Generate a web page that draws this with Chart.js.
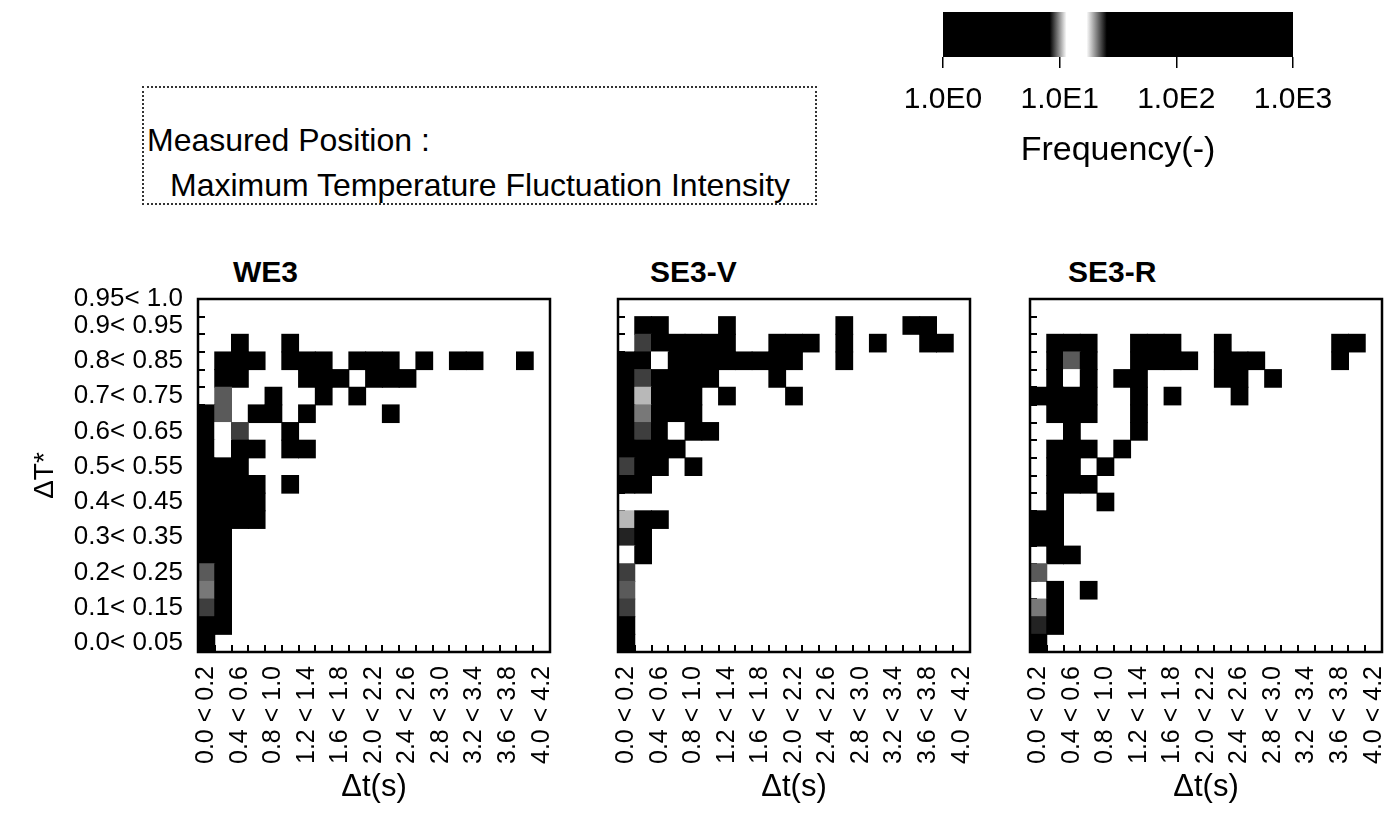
<!DOCTYPE html>
<html><head><meta charset="utf-8">
<script src="https://cdn.jsdelivr.net/npm/chart.js@4.4.0/dist/chart.umd.min.js"></script>
<style>
html,body{margin:0;padding:0;background:#fff;}
body{width:1396px;height:815px;position:relative;overflow:hidden;font-family:'Liberation Sans',Arial,sans-serif;color:#000;}
.abs{position:absolute;}
canvas{display:block;}
#box{left:142px;top:86px;width:671px;height:115px;border:2px dotted #333;}
.boxline{position:absolute;font-size:32px;line-height:32px;white-space:nowrap;}
.ptitle{position:absolute;font-weight:bold;font-size:30px;line-height:30px;white-space:nowrap;}
</style></head><body>
<div id="box" class="abs">
  <div class="boxline" style="left:3px;top:36px">Measured Position :</div>
  <div class="boxline" style="left:26px;top:81px">Maximum Temperature Fluctuation Intensity</div>
</div>
<div class="ptitle" style="left:233px;top:257px">WE3</div>
<div class="ptitle" style="left:650px;top:257px">SE3-V</div>
<div class="ptitle" style="left:1068px;top:257px">SE3-R</div>
<canvas id="cbar" class="abs" style="left:880px;top:0px" width="516" height="185"></canvas>
<canvas id="c1" class="abs" style="left:0px;top:250px" width="560" height="565"></canvas>
<canvas id="c2" class="abs" style="left:600px;top:250px" width="380" height="565"></canvas>
<canvas id="c3" class="abs" style="left:1012px;top:250px" width="384" height="565"></canvas>
<script>
// ---- tick labels ----
const xLabels = ['0.0 < 0.2','0.2 < 0.4','0.4 < 0.6','0.6 < 0.8','0.8 < 1.0','1.0 < 1.2','1.2 < 1.4',
  '1.4 < 1.6','1.6 < 1.8','1.8 < 2.0','2.0 < 2.2','2.2 < 2.4','2.4 < 2.6','2.6 < 2.8','2.8 < 3.0',
  '3.0 < 3.2','3.2 < 3.4','3.4 < 3.6','3.6 < 3.8','3.8 < 4.0','4.0 < 4.2'];
const yLabels = ['0.0< 0.05','0.05< 0.1','0.1< 0.15','0.15< 0.2','0.2< 0.25','0.25< 0.3','0.3< 0.35',
  '0.35< 0.4','0.4< 0.45','0.45< 0.5','0.5< 0.55','0.55< 0.6','0.6< 0.65','0.65< 0.7','0.7< 0.75',
  '0.75< 0.8','0.8< 0.85','0.85< 0.9','0.9< 0.95','0.95< 1.0'];
const yShownRows = [0,2,4,6,8,10,12,14,16,18,19];
const binWidth = 0.05;
const colorTicks = [1, 10, 100, 1000];
const colorLabels = ['1.0E0','1.0E1','1.0E2','1.0E3'];

// ---- frequency grids: rows listed from top (0.95<1.0) to bottom (0.0<0.05), 21 Δt columns ----
const we3Freq = [
 [0,0,0,0,0,0,0,0,0,0,0,0,0,0,0,0,0,0,0,0,0],
 [0,0,0,0,0,0,0,0,0,0,0,0,0,0,0,0,0,0,0,0,0],
 [0,0,2,0,0,1,0,0,0,0,0,0,0,0,0,0,0,0,0,0,0],
 [0,3,4,2,0,3,2,2,0,1,2,1,0,1,0,1,1,0,0,1,0],
 [0,5,3,0,0,0,2,3,1,0,1,2,1,0,0,0,0,0,0,0,0],
 [0,22,0,0,2,0,0,1,0,1,0,0,0,0,0,0,0,0,0,0,0],
 [40,22,0,3,2,0,1,0,0,0,0,1,0,0,0,0,0,0,0,0,0],
 [60,14,23,0,0,1,0,0,0,0,0,0,0,0,0,0,0,0,0,0,0],
 [80,14,4,2,0,1,1,0,0,0,0,0,0,0,0,0,0,0,0,0,0],
 [120,35,5,0,0,0,0,0,0,0,0,0,0,0,0,0,0,0,0,0,0],
 [150,60,6,2,0,1,0,0,0,0,0,0,0,0,0,0,0,0,0,0,0],
 [220,90,7,3,0,0,0,0,0,0,0,0,0,0,0,0,0,0,0,0,0],
 [300,80,6,2,0,0,0,0,0,0,0,0,0,0,0,0,0,0,0,0,0],
 [350,40,0,0,0,0,0,0,0,0,0,0,0,0,0,0,0,0,0,0,0],
 [420,30,0,0,0,0,0,0,0,0,0,0,0,0,0,0,0,0,0,0,0],
 [22,45,0,0,0,0,0,0,0,0,0,0,0,0,0,0,0,0,0,0,0],
 [21,50,0,0,0,0,0,0,0,0,0,0,0,0,0,0,0,0,0,0,0],
 [23,55,0,0,0,0,0,0,0,0,0,0,0,0,0,0,0,0,0,0,0],
 [500,60,0,0,0,0,0,0,0,0,0,0,0,0,0,0,0,0,0,0,0],
 [700,0,0,0,0,0,0,0,0,0,0,0,0,0,0,0,0,0,0,0,0]
];
const se3vFreq = [
 [0,0,0,0,0,0,0,0,0,0,0,0,0,0,0,0,0,0,0,0,0],
 [0,2,1,0,0,0,1,0,0,0,0,0,0,1,0,0,0,1,1,0,0],
 [0,23,3,2,2,1,2,0,0,1,1,1,0,1,0,1,0,0,1,1,0],
 [40,30,14,5,3,4,2,2,1,2,1,0,0,1,0,0,0,0,0,0,0],
 [50,23,6,4,3,1,0,0,0,1,0,0,0,0,0,0,0,0,0,0,0],
 [60,19,7,5,2,0,1,0,0,0,1,0,0,0,0,0,0,0,0,0,0],
 [80,21,6,4,2,0,0,0,0,0,0,0,0,0,0,0,0,0,0,0,0],
 [90,23,5,14,2,1,0,0,0,0,0,0,0,0,0,0,0,0,0,0,0],
 [110,40,4,2,0,0,0,0,0,0,0,0,0,0,0,0,0,0,0,0,0],
 [23,30,3,0,1,0,0,0,0,0,0,0,0,0,0,0,0,0,0,0,0],
 [150,35,0,0,0,0,0,0,0,0,0,0,0,0,0,0,0,0,0,0,0],
 [0,0,0,0,0,0,0,0,0,0,0,0,0,0,0,0,0,0,0,0,0],
 [19,4,2,0,0,0,0,0,0,0,0,0,0,0,0,0,0,0,0,0,0],
 [24,3,0,0,0,0,0,0,0,0,0,0,0,0,0,0,0,0,0,0,0],
 [14,2,0,0,0,0,0,0,0,0,0,0,0,0,0,0,0,0,0,0,0],
 [23,0,0,0,0,0,0,0,0,0,0,0,0,0,0,0,0,0,0,0,0],
 [22,0,0,0,0,0,0,0,0,0,0,0,0,0,0,0,0,0,0,0,0],
 [23,0,0,0,0,0,0,0,0,0,0,0,0,0,0,0,0,0,0,0,0],
 [300,0,0,0,0,0,0,0,0,0,0,0,0,0,0,0,0,0,0,0,0],
 [500,0,0,0,0,0,0,0,0,0,0,0,0,0,0,0,0,0,0,0,0]
];
const se3rFreq = [
 [0,0,0,0,0,0,0,0,0,0,0,0,0,0,0,0,0,0,0,0,0],
 [0,0,0,0,0,0,0,0,0,0,0,0,0,0,0,0,0,0,0,0,0],
 [0,3,2,2,0,0,2,1,1,0,0,1,0,0,0,0,0,0,1,1,0],
 [0,4,22,3,0,0,3,2,1,1,0,2,1,1,0,0,0,0,1,0,0],
 [0,5,14,3,0,1,2,0,0,0,0,1,1,0,1,0,0,0,0,0,0],
 [30,40,6,4,0,0,2,0,1,0,0,0,1,0,0,0,0,0,0,0,0],
 [0,35,5,3,0,0,1,0,0,0,0,0,0,0,0,0,0,0,0,0,0],
 [0,0,4,0,0,0,1,0,0,0,0,0,0,0,0,0,0,0,0,0,0],
 [0,30,6,2,0,1,0,0,0,0,0,0,0,0,0,0,0,0,0,0,0],
 [0,40,3,0,1,0,0,0,0,0,0,0,0,0,0,0,0,0,0,0,0],
 [0,50,4,1,0,0,0,0,0,0,0,0,0,0,0,0,0,0,0,0,0],
 [0,45,0,0,1,0,0,0,0,0,0,0,0,0,0,0,0,0,0,0,0],
 [80,60,0,0,0,0,0,0,0,0,0,0,0,0,0,0,0,0,0,0,0],
 [120,50,0,0,0,0,0,0,0,0,0,0,0,0,0,0,0,0,0,0,0],
 [0,40,3,0,0,0,0,0,0,0,0,0,0,0,0,0,0,0,0,0,0],
 [22,0,0,0,0,0,0,0,0,0,0,0,0,0,0,0,0,0,0,0,0],
 [0,30,0,1,0,0,0,0,0,0,0,0,0,0,0,0,0,0,0,0,0],
 [21,35,0,0,0,0,0,0,0,0,0,0,0,0,0,0,0,0,0,0,0],
 [24,40,0,0,0,0,0,0,0,0,0,0,0,0,0,0,0,0,0,0,0],
 [600,0,0,0,0,0,0,0,0,0,0,0,0,0,0,0,0,0,0,0,0]
];

// ---- colour scale (grey level along log10 frequency fraction) ----
const cmapStops = [0, 0.305, 0.353, 0.41, 0.468, 1];
const cmapGrey  = [0, 0, 1, 1, 0, 0];
const FONT = "'Liberation Sans', Arial, sans-serif";

function greyAt(t){
  t = Math.max(0, Math.min(1, t));
  for (let i = 1; i < cmapStops.length; i++) {
    if (t <= cmapStops[i]) {
      const f = (t - cmapStops[i-1]) / (cmapStops[i] - cmapStops[i-1] || 1);
      return cmapGrey[i-1] + f * (cmapGrey[i] - cmapGrey[i-1]);
    }
  }
  return cmapGrey[cmapGrey.length-1];
}
function greyCss(g){ const c = Math.round(255*g); return `rgb(${c},${c},${c})`; }
function colorFor(v){
  if (!v) return 'rgba(0,0,0,0)';
  const t = Math.log10(v) / Math.log10(colorTicks[colorTicks.length-1]);
  return greyCss(greyAt(t));
}

const framePlugin = {
  id: 'frameTicks',
  beforeDatasetsDraw(chart){
    const {ctx, chartArea: a, scales: {x, y}} = chart;
    ctx.save();
    ctx.strokeStyle = '#000'; ctx.lineWidth = 2;
    ctx.beginPath();
    for (let i = 1; i < xLabels.length; i++) {
      const px = Math.round((x.getPixelForValue(i-1) + x.getPixelForValue(i)) / 2);
      ctx.moveTo(px, a.bottom); ctx.lineTo(px, a.bottom - 7);
    }
    for (let k = 1; k < yLabels.length; k++) {
      const py = Math.round(y.getPixelForValue(k * binWidth));
      ctx.moveTo(a.left, py); ctx.lineTo(a.left + 7, py);
    }
    ctx.stroke();
    ctx.restore();
  },
  afterDatasetsDraw(chart){
    const {ctx, chartArea: a} = chart;
    ctx.save();
    ctx.strokeStyle = '#000'; ctx.lineWidth = 2.5;
    ctx.strokeRect(a.left, a.top, a.width, a.height);
    ctx.restore();
  }
};

function makeDatasets(grid){
  const bottomUp = grid.slice().reverse();
  return bottomUp.map((rowVals, r) => ({
    label: yLabels[r],
    data: rowVals.map(v => v > 0 ? [r * binWidth, (r + 1) * binWidth] : null),
    backgroundColor: rowVals.map(colorFor)
  }));
}

function heatChart(id, grid, showY, pad){
  return new Chart(document.getElementById(id), {
    type: 'bar',
    data: { labels: xLabels, datasets: makeDatasets(grid) },
    plugins: [framePlugin],
    options: {
      responsive: false, animation: false,
      layout: { padding: pad },
      datasets: { bar: { grouped: false, barPercentage: 1, categoryPercentage: 1, borderWidth: 0, inflateAmount: 0.5 } },
      plugins: { legend: { display: false }, tooltip: { enabled: false } },
      scales: {
        x: {
          type: 'category',
          grid: { display: false, drawTicks: false },
          border: { display: false },
          afterFit(s){ s.height = 163; s.paddingLeft = 0; s.paddingRight = 0; },
          ticks: {
            autoSkip: false, minRotation: 90, maxRotation: 90, padding: 14,
            color: '#000', font: { family: FONT, size: 25 },
            callback: (v, i) => i % 2 === 0 ? xLabels[i] : ''
          },
          title: { display: true, text: 'Δt(s)', color: '#000', font: { family: FONT, size: 31 }, padding: { top: 0, bottom: 9 } }
        },
        y: {
          type: 'linear', min: 0, max: 1, display: true,
          grid: { display: false, drawTicks: false },
          border: { display: false },
          afterBuildTicks(s){ s.ticks = yShownRows.map(r => ({ value: r === yLabels.length - 1 ? 1 : (r + 0.5) * binWidth })); },
          afterFit(s){ s.width = showY ? 198 : 0; s.paddingTop = 0; s.paddingBottom = 0; },
          ticks: {
            display: showY,
            autoSkip: false, padding: 15, color: '#000', font: { family: FONT, size: 26 },
            callback: (v, i) => yLabels[yShownRows[i]]
          },
          title: { display: showY, text: 'ΔT*', color: '#000', font: { family: FONT, size: 28 }, padding: { top: 28, bottom: 0 } }
        }
      }
    }
  });
}

heatChart('c1', we3Freq, true, { top: 49, right: 10, left: 0, bottom: 0 });
heatChart('c2', se3vFreq, false, { top: 49, right: 10, left: 18, bottom: 0 });
heatChart('c3', se3rFreq, false, { top: 49, right: 14, left: 18, bottom: 0 });

// ---- colour bar ----
new Chart(document.getElementById('cbar'), {
  type: 'bar',
  data: {
    labels: ['Frequency'],
    datasets: [{
      data: [[colorTicks[0], colorTicks[colorTicks.length-1]]],
      borderWidth: 0, barPercentage: 1, categoryPercentage: 1,
      backgroundColor: (ctx) => {
        const ch = ctx.chart, a = ch.chartArea;
        if (!a) return '#000';
        const g = ch.ctx.createLinearGradient(a.left, 0, a.right, 0);
        cmapStops.forEach((s, i) => g.addColorStop(s, greyCss(cmapGrey[i])));
        return g;
      }
    }]
  },
  options: {
    indexAxis: 'y', responsive: false, animation: false,
    layout: { padding: { top: 12, left: 63, right: 103, bottom: 0 } },
    plugins: { legend: { display: false }, tooltip: { enabled: false } },
    scales: {
      y: { display: false },
      x: {
        type: 'logarithmic', min: colorTicks[0], max: colorTicks[colorTicks.length-1],
        afterBuildTicks(s){ s.ticks = colorTicks.map(v => ({ value: v })); },
        afterFit(s){ s.height = 128; s.paddingLeft = 0; s.paddingRight = 0; },
        grid: { drawOnChartArea: false, drawTicks: true, tickLength: 11, color: '#000', lineWidth: 1.5 },
        border: { display: false },
        ticks: { autoSkip: false, maxRotation: 0, padding: 14, color: '#000', font: { family: FONT, size: 30 },
          callback: (v, i) => colorLabels[i] },
        title: { display: true, text: 'Frequency(-)', color: '#000', font: { family: FONT, size: 34 }, padding: { top: 0, bottom: 14 } }
      }
    }
  }
});
</script>
</body></html>
